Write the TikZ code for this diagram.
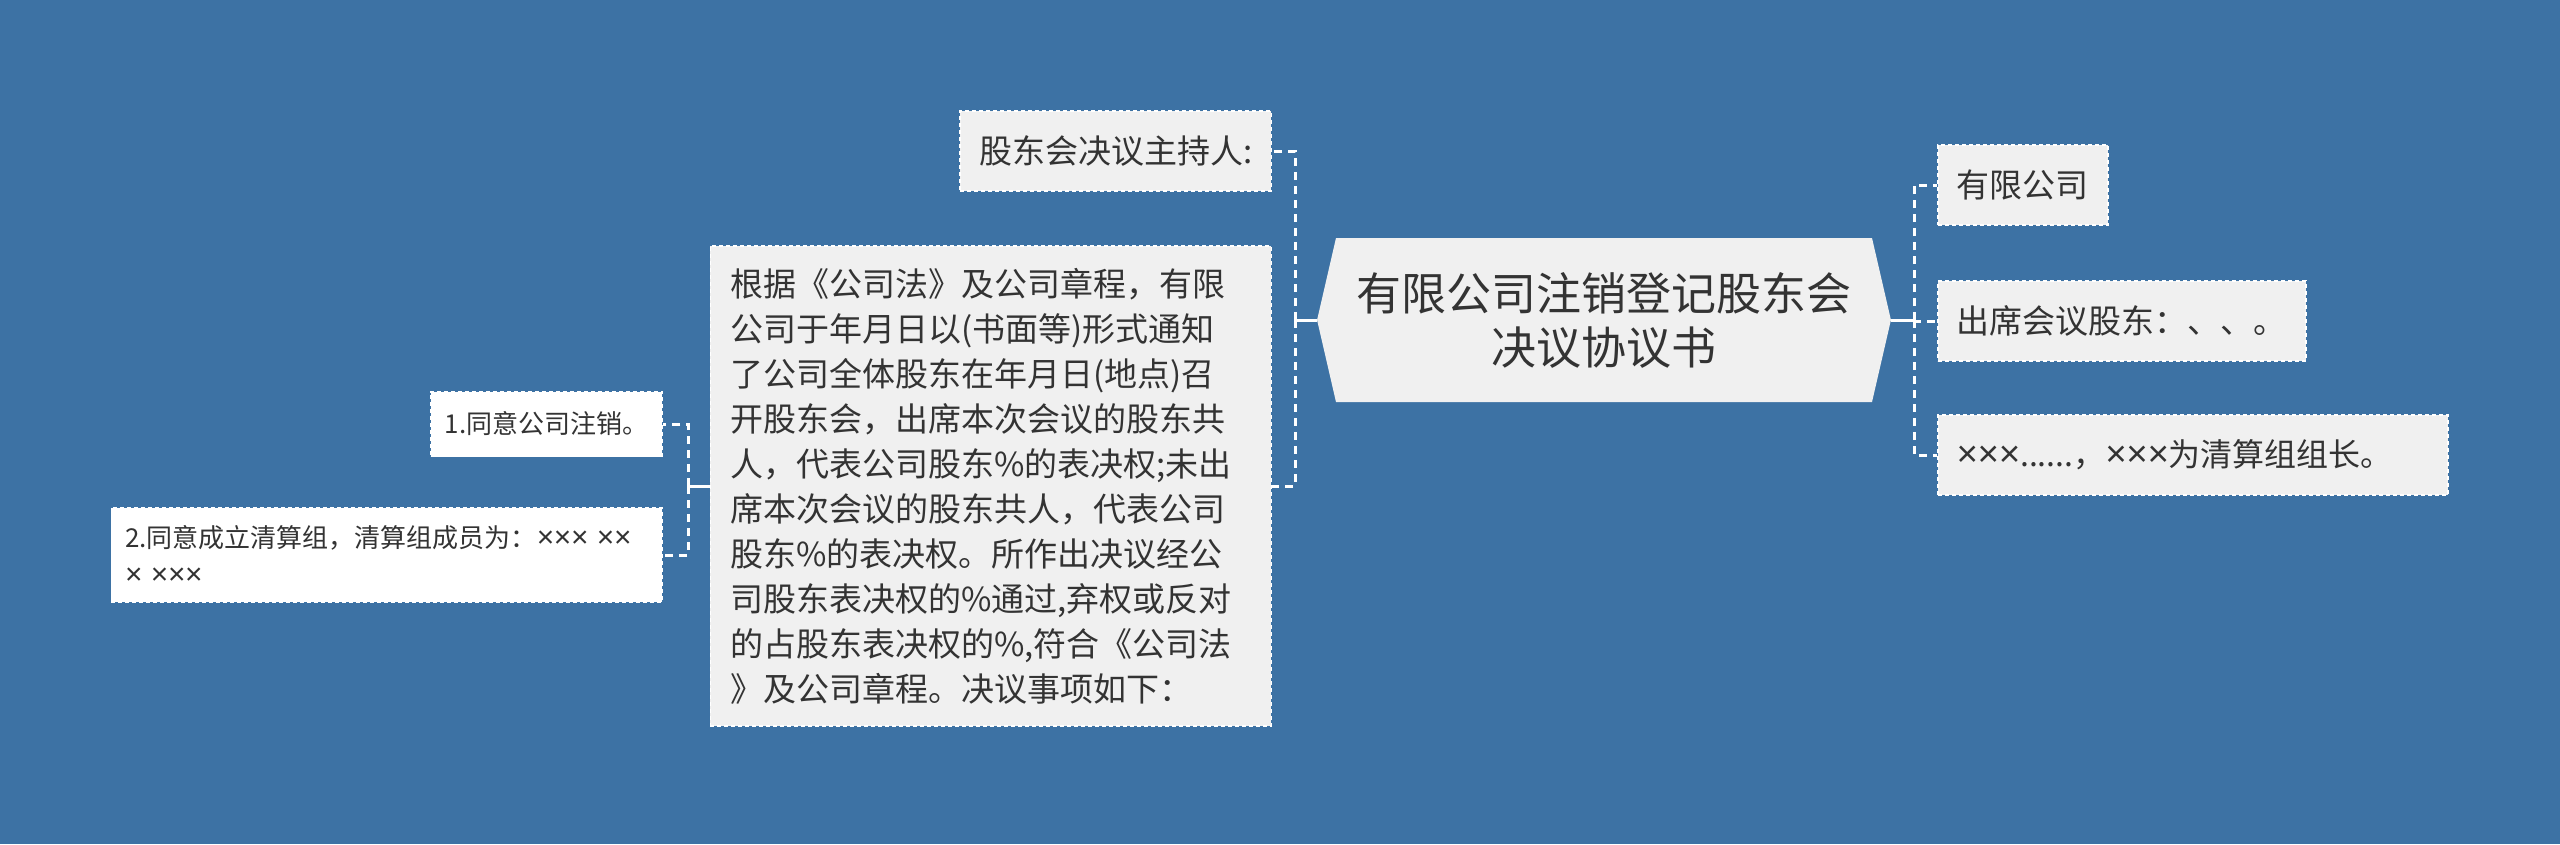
\documentclass[tikz,border=0pt]{standalone}
\usepackage{fontspec}
\setmainfont{Noto Sans CJK SC}
\newfontfamily\latinsans{Liberation Sans}
\usepackage{tikz}
\usepackage{xcolor}
\usetikzlibrary{shapes.symbols,positioning}

\definecolor{bgblue}{HTML}{3D72A4}
\definecolor{boxgray}{HTML}{F0F0F0}
\definecolor{inkgray}{HTML}{333333}

\newcommand{\tms}{\makebox[0.66em]{\scalebox{1.15}{\latinsans ×}}}

\begin{document}
\begin{tikzpicture}[x=1pt,y=-1pt,
                root node/.style={signal,signal to=east and west,signal pointer angle=154,
                  fill=boxgray,text=inkgray,align=center,text width=500pt,
                  font=\fontsize{45}{54}\selectfont,inner xsep=18pt,inner ysep=34pt},
                topic node/.style={rectangle,fill=boxgray,draw=white,line width=1.5pt,
                  dash pattern=on 4pt off 3pt,text=inkgray,
                  font=\fontsize{33}{45}\selectfont,inner xsep=19pt,minimum height=80pt},
                sub node/.style={topic node,fill=white,font=\fontsize{26}{37}\selectfont,
                  inner xsep=14pt,minimum height=65pt},
                link/.style={draw=white,line width=3pt,dash pattern=on 8pt off 6pt},
                stem/.style={draw=white,line width=3pt}]

  \fill[bgblue] (0,0) rectangle (2560,844);
  \useasboundingbox (0,0) rectangle (2560,844);

  % centre
  \node[root node] (root) at (1604,320) {有限公司注销登记股东会\\决议协议书};

  % right side
  \node[topic node, anchor=west] (firm) at (1937,185) {有限公司};
  \node[topic node, anchor=west] (attend) at (1937,321) {出席会议股东：、、。};
  \node[topic node, anchor=west, align=left, text width=472pt, font=\fontsize{32}{45}\selectfont]
    (leader) at (1937,455)
    {\tms\tms\tms......，\tms\tms\tms{}为清算组组长。};

  % left side
  \node[topic node, anchor=east] (host) at (1272,151) {股东会决议主持人:};
  \node[topic node, anchor=east, align=left, text width=521pt,
        inner xsep=20pt, inner ysep=22pt] (basis) at (1272,486)
    {根据《公司法》及公司章程，有限\\
     公司于年月日以(书面等)形式通知\\
     了公司全体股东在年月日(地点)召\\
     开股东会，出席本次会议的股东共\\
     人，代表公司股东\%的表决权;未出\\
     席本次会议的股东共人，代表公司\\
     股东\%的表决权。所作出决议经公\\
     司股东表决权的\%通过,弃权或反对\\
     的占股东表决权的\%,符合《公司法\\
     》及公司章程。决议事项如下：};

  \node[sub node, anchor=east] (item1) at (663,424) {1.同意公司注销。};
  \node[sub node, anchor=east, align=left, text width=523pt, minimum height=94pt] (item2) at (663,555)
    {2.同意成立清算组，清算组成员为：\tms\tms\tms\ \tms\tms\\\tms\ \tms\tms\tms};

  % connectors
  \coordinate (lj) at (1295,320);
  \coordinate (rj) at (1914,320);
  \coordinate (bj) at (688,486);

  \draw[stem] (root.west) -- (lj);
  \draw[link] (lj) |- (host.east);
  \draw[link] (lj) |- (basis.east);

  \draw[stem] (root.east) -- (rj);
  \draw[link] (rj) |- (firm.west);
  \draw[link] (rj) |- (attend.west);
  \draw[link] (rj) |- (leader.west);

  \draw[stem] (basis.west) -- (bj);
  \draw[link] (bj) |- (item1.east);
  \draw[link] (bj) |- (item2.east);
\end{tikzpicture}
\end{document}
